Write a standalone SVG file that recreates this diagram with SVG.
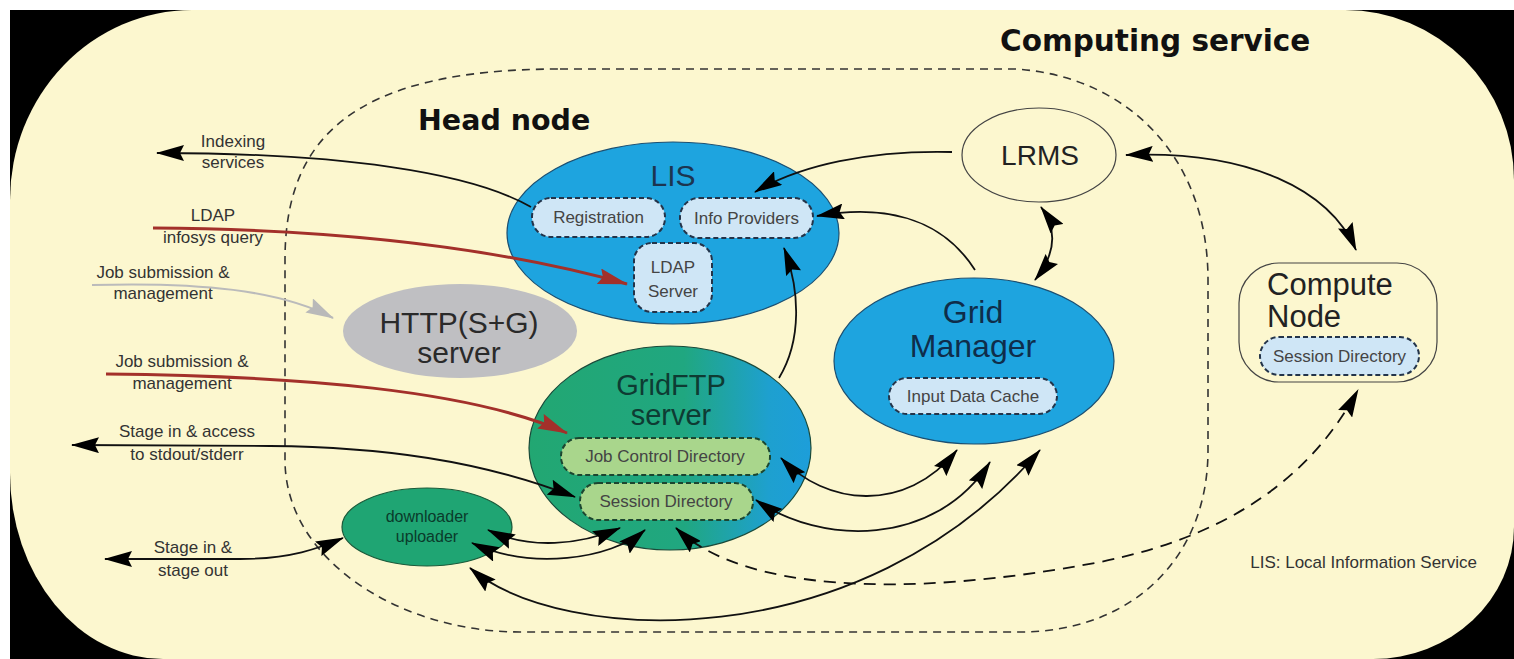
<svg xmlns="http://www.w3.org/2000/svg" width="1514" height="659" viewBox="0 0 1514 659">
<style>
.lbl{font-family:"Liberation Sans",Arial,sans-serif;font-size:17px;fill:#333;text-anchor:middle}
.box{font-family:"Liberation Sans",Arial,sans-serif;font-size:17px;fill:#444;text-anchor:middle}
.big{font-family:"Liberation Sans",Arial,sans-serif;text-anchor:middle}
.title{font-family:"DejaVu Sans",Verdana,sans-serif;font-weight:bold;fill:#111}
.ibox{fill:#CFE6F6;stroke:#23344a;stroke-width:2;stroke-dasharray:5 3}
.gbox{fill:#A9D68C;stroke:#1c4630;stroke-width:2;stroke-dasharray:5 3}
.con{fill:none;stroke:#111;stroke-width:1.8}
</style>
<defs>
<marker id="ah" viewBox="0 0 28 16" markerWidth="28" markerHeight="16" refX="27" refY="8" orient="auto-start-reverse" markerUnits="userSpaceOnUse"><path d="M0,0 L28,8 L0,16 L4,8 Z" fill="#000"/></marker>
<marker id="ahr" viewBox="0 0 30 16" markerWidth="30" markerHeight="16" refX="29" refY="8" orient="auto" markerUnits="userSpaceOnUse"><path d="M0,0 L30,8 L0,16 L4,8 Z" fill="#A3302A"/></marker>
<marker id="ahg" viewBox="0 0 28 16" markerWidth="28" markerHeight="16" refX="27" refY="8" orient="auto" markerUnits="userSpaceOnUse"><path d="M0,0 L28,8 L0,16 L4,8 Z" fill="#B9B9B9"/></marker>
<linearGradient id="ftp" x1="0" y1="0" x2="1" y2="0">
<stop offset="0" stop-color="#22A772"/>
<stop offset="0.55" stop-color="#20A780"/>
<stop offset="0.85" stop-color="#1EA0CF"/>
<stop offset="1" stop-color="#1D9EDA"/>
</linearGradient>
</defs>
<rect x="0" y="0" width="1514" height="659" fill="#fff"/>
<rect x="10" y="10" width="1504" height="649" fill="#000"/>
<path d="M192,10 L1345,10 A169,170 0 0 1 1514,180 L1514,527 A141,132 0 0 1 1373,659 L163,659 A153,186 0 0 1 10,473 L10,200 A182,190 0 0 1 192,10 Z" fill="#FCF7CF"/>

<g id="head-node">
<path d="M560,69 L1015,69 C1120,75 1208,150 1208,280 L1208,450 C1208,560 1130,632 1020,632 L520,632 C400,632 285,560 285,460 L285,260 C285,140 350,69 560,69 Z" fill="none" stroke="#333" stroke-width="1.6" stroke-dasharray="8 6"/>
<text class="title" x="418" y="130" font-size="28.5">Head node</text>
</g>
<g id="computing-service">
<text class="title" x="1000" y="51" font-size="29.5">Computing service</text>
</g>

<g id="lis">
<ellipse cx="673" cy="233" rx="166" ry="91" fill="#1EA4DF" stroke="#1B4F72" stroke-width="1.2"/>
<text class="big" x="673" y="186" font-size="30" fill="#1C3550">LIS</text>
</g>
<g id="registration">
<rect class="ibox" x="532" y="198" width="133" height="39" rx="19"/>
<text class="box" x="598.5" y="223">Registration</text>
</g>
<g id="info-providers">
<rect class="ibox" x="680" y="198" width="133" height="40" rx="19"/>
<text class="box" x="746.5" y="224">Info Providers</text>
</g>
<g id="ldap-server">
<rect class="ibox" x="634" y="243" width="78" height="69" rx="18"/>
<text class="box" x="673" y="273">LDAP</text>
<text class="box" x="673" y="297">Server</text>
</g>

<g id="http-server">
<ellipse cx="460" cy="331" rx="117" ry="47" fill="#BFBFC2"/>
<text class="big" x="459" y="333" font-size="30" fill="#2a2a2a">HTTP(S+G)</text>
<text class="big" x="459" y="363" font-size="30" fill="#2a2a2a">server</text>
</g>

<g id="gridftp-server">
<ellipse cx="670" cy="448" rx="141" ry="102" fill="url(#ftp)" stroke="#1a4a3a" stroke-width="1.2"/>
<text class="big" x="671" y="395" font-size="29" fill="#0E3B33">GridFTP</text>
<text class="big" x="671" y="425" font-size="29" fill="#0E3B33">server</text>
</g>
<g id="job-control-directory">
<rect class="gbox" x="561" y="438" width="209" height="37" rx="18"/>
<text class="box" x="665" y="462">Job Control Directory</text>
</g>
<g id="session-directory">
<rect class="gbox" x="580" y="483" width="173" height="37" rx="18"/>
<text class="box" x="666" y="507">Session Directory</text>
</g>

<g id="grid-manager">
<ellipse cx="974" cy="361" rx="140" ry="83" fill="#1EA4DF" stroke="#1B4F72" stroke-width="1.2"/>
<text class="big" x="973" y="323" font-size="32" fill="#0F2D4A">Grid</text>
<text class="big" x="973" y="357" font-size="32" fill="#0F2D4A">Manager</text>
</g>
<g id="input-data-cache">
<rect class="ibox" x="889" y="378" width="168" height="36" rx="18"/>
<text class="box" x="973" y="402">Input Data Cache</text>
</g>

<g id="lrms">
<ellipse cx="1039" cy="155" rx="77" ry="47" fill="none" stroke="#444" stroke-width="1.2"/>
<text class="big" x="1040" y="165" font-size="28" fill="#222">LRMS</text>
</g>

<g id="compute-node">
<rect x="1239" y="263" width="198" height="119" rx="40" fill="none" stroke="#444" stroke-width="1.2"/>
<text x="1267" y="295" font-family="Liberation Sans, Arial, sans-serif" font-size="31" fill="#222">Compute</text>
<text x="1267" y="327" font-family="Liberation Sans, Arial, sans-serif" font-size="31" fill="#222">Node</text>
</g>
<g id="compute-session-directory">
<rect class="ibox" x="1260" y="337" width="159" height="38" rx="19"/>
<text class="box" x="1339.5" y="362">Session Directory</text>
</g>

<g id="downloader-uploader">
<ellipse cx="427" cy="527" rx="85" ry="39" fill="#1FA573" stroke="#1a5a3a" stroke-width="1.2"/>
<text class="big" x="427" y="522" font-size="16" fill="#0A3B2B">downloader</text>
<text class="big" x="427" y="542" font-size="16" fill="#0A3B2B">uploader</text>
</g>

<g id="labels">
<text class="lbl" x="233" y="147">Indexing</text>
<text class="lbl" x="233" y="168">services</text>
<text class="lbl" x="213" y="221">LDAP</text>
<text class="lbl" x="213" y="243">infosys query</text>
<text class="lbl" x="163" y="278">Job submission &amp;</text>
<text class="lbl" x="163" y="299">management</text>
<text class="lbl" x="182" y="367">Job submission &amp;</text>
<text class="lbl" x="182" y="389">management</text>
<text class="lbl" x="187" y="437">Stage in &amp; access</text>
<text class="lbl" x="187" y="460">to stdout/stderr</text>
<text class="lbl" x="193" y="553">Stage in &amp;</text>
<text class="lbl" x="193" y="576">stage out</text>
<text class="lbl" x="1477" y="568" style="text-anchor:end" font-size="16">LIS: Local Information Service</text>
</g>

<g id="connectors">
<path class="con" d="M531,207 C470,172 340,153 157,153" marker-end="url(#ah)"/>
<path d="M153,228 C300,229 470,240 627,284" fill="none" stroke="#A3302A" stroke-width="3" marker-end="url(#ahr)"/>
<path d="M92,285 C200,282 280,290 333,318" fill="none" stroke="#BBBBBB" stroke-width="2" marker-end="url(#ahg)"/>
<path d="M106,374 C300,376 470,390 567,433" fill="none" stroke="#A3302A" stroke-width="3" marker-end="url(#ahr)"/>
<path class="con" d="M72,445 L270,446 C380,447 480,460 575,497" marker-start="url(#ah)" marker-end="url(#ah)"/>
<path class="con" d="M105,559 L240,559 C290,559 320,548 343,538" marker-start="url(#ah)" marker-end="url(#ah)"/>
<path class="con" d="M952,152 C870,150 800,165 755,192" marker-end="url(#ah)"/>
<path class="con" d="M975,270 C940,215 880,205 817,216" marker-end="url(#ah)"/>
<path class="con" d="M779,378 C802,340 800,290 784,248" marker-end="url(#ah)"/>
<path class="con" d="M1041,207 C1058,230 1055,255 1035,280" marker-start="url(#ah)" marker-end="url(#ah)"/>
<path class="con" d="M1126,155 C1250,150 1330,190 1356,250" marker-start="url(#ah)" marker-end="url(#ah)"/>
<path class="con" d="M676,528 C740,590 900,600 1100,562 C1250,532 1320,460 1358,390" stroke-dasharray="12 8" marker-start="url(#ah)" marker-end="url(#ah)"/>
<path class="con" d="M781,458 C825,505 905,515 957,450" marker-start="url(#ah)" marker-end="url(#ah)"/>
<path class="con" d="M756,500 C820,545 935,548 990,462" marker-start="url(#ah)" marker-end="url(#ah)"/>
<path class="con" d="M470,568 C560,645 860,660 1040,450" marker-start="url(#ah)" marker-end="url(#ah)"/>
<path class="con" d="M488,530 C530,550 580,545 620,528" marker-start="url(#ah)" marker-end="url(#ah)"/>
<path class="con" d="M472,543 C530,570 610,560 645,530" marker-start="url(#ah)" marker-end="url(#ah)"/>
</g>
</svg>
